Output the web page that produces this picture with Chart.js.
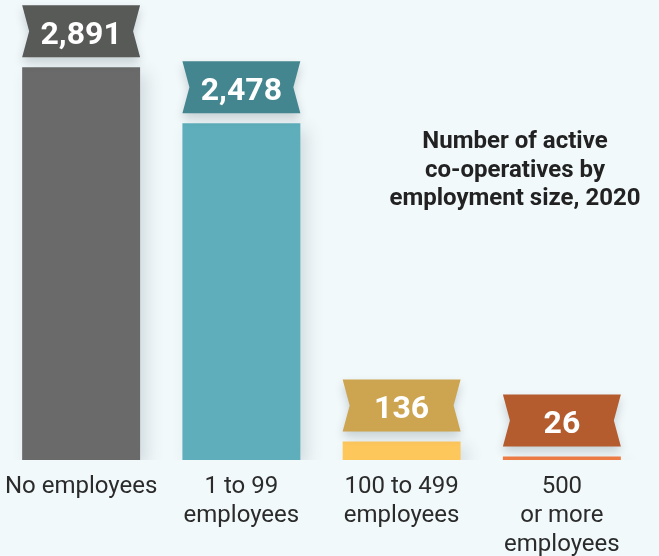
<!DOCTYPE html>
<html><head><meta charset="utf-8">
<script src="https://cdn.jsdelivr.net/npm/chart.js@4"></script>
<style>html,body{margin:0;padding:0;background:#f2f9fb;}#wrap{width:659px;height:556px;position:relative;}</style>
</head><body><div id="wrap"><canvas id="c"></canvas></div>
<script>
const categories = [["No employees"], ["1 to 99", "employees"], ["100 to 499", "employees"], ["500", "or more", "employees"]];
const values = [2891, 2478, 136, 26];
const valueLabels = ["2,891", "2,478", "136", "26"];
const barColors = ["#6a6a6a", "#5eafbb", "#fec75c", "#ef7c44"];
const ribbonColors = ["#585a58", "#44868f", "#cda44f", "#b45c2e"];
const titleLines = ["Number of active", "co-operatives by", "employment size, 2020"];

const FONT = "Roboto, 'Noto Sans', sans-serif";

const decor = {
  id: 'decor',
  beforeDatasetsDraw(chart) {
    const ctx = chart.ctx;
    ctx.save();
    ctx.shadowColor = 'rgba(40,60,70,0.16)';
    ctx.shadowBlur = 16;
    ctx.shadowOffsetX = 7;
    ctx.shadowOffsetY = 6;
  },
  afterDatasetsDraw(chart) {
    const ctx = chart.ctx;
    ctx.restore();
    const meta = chart.getDatasetMeta(0);
    meta.data.forEach((el, i) => {
      const left = el.x - el.width / 2, right = el.x + el.width / 2;
      const bottom = el.y - 10, top = bottom - 52, mid = (top + bottom) / 2, notch = 7;
      ctx.save();
      ctx.shadowColor = 'rgba(40,60,70,0.22)';
      ctx.shadowBlur = 10;
      ctx.shadowOffsetY = 5;
      ctx.beginPath();
      ctx.moveTo(left, top);
      ctx.lineTo(right, top);
      ctx.lineTo(right - notch, mid);
      ctx.lineTo(right, bottom);
      ctx.lineTo(left, bottom);
      ctx.lineTo(left + notch, mid);
      ctx.closePath();
      ctx.fillStyle = ribbonColors[i];
      ctx.fill();
      ctx.restore();
      ctx.save();
      ctx.fillStyle = '#ffffff';
      ctx.font = "bold 32px " + FONT;
      ctx.textAlign = 'center';
      ctx.textBaseline = 'alphabetic';
      ctx.fillText(valueLabels[i], el.x, mid + 12.5);
      ctx.restore();
    });
    ctx.save();
    ctx.fillStyle = '#222222';
    ctx.font = "bold 24px " + FONT;
    ctx.textAlign = 'center';
    ctx.textBaseline = 'alphabetic';
    titleLines.forEach((t, k) => ctx.fillText(t, 515, 148 + k * 28.5));
    ctx.restore();
  }
};

new Chart(document.getElementById('c'), {
  type: 'bar',
  data: {
    labels: categories,
    datasets: [{
      data: values,
      backgroundColor: barColors,
      borderWidth: 0,
      categoryPercentage: 1,
      barPercentage: 0.736
    }]
  },
  options: {
    responsive: true,
    maintainAspectRatio: false,
    animation: false,
    events: [],
    layout: { padding: { left: 1, right: 17, top: 0, bottom: -15.6 } },
    plugins: { legend: { display: false }, tooltip: { enabled: false }, title: { display: false } },
    scales: {
      y: { display: false, min: 0, max: 3385 },
      x: {
        grid: { display: false, drawTicks: false },
        border: { display: false },
        afterFit(scale) { scale.paddingLeft = 0; scale.paddingRight = 0; },
        ticks: {
          padding: 12.6,
          color: '#2b2b2b',
          font: { family: FONT, size: 24, lineHeight: 1.2 },
          maxRotation: 0,
          autoSkip: false
        }
      }
    }
  },
  plugins: [decor]
});
</script>
</body></html>
